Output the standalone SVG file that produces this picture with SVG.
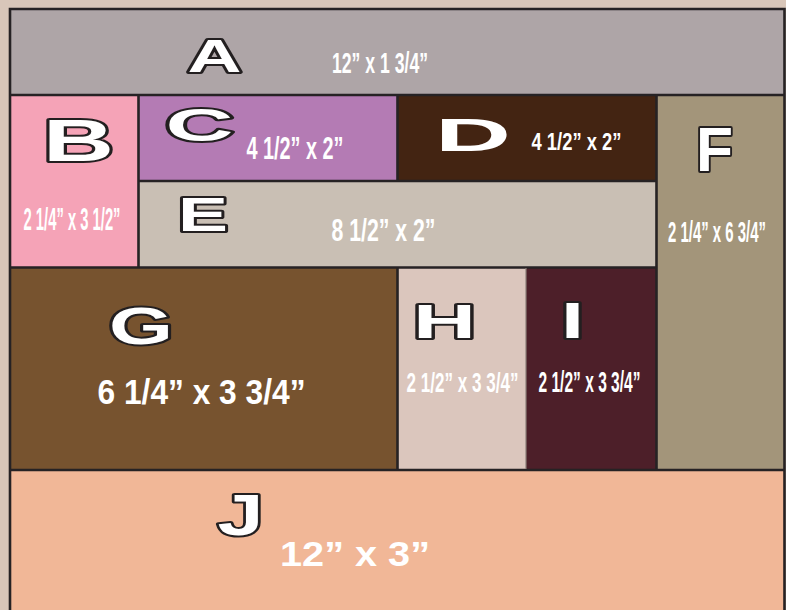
<svg xmlns="http://www.w3.org/2000/svg" width="786" height="610" viewBox="0 0 786 610">
<style>
.ln{stroke:#262224;stroke-width:2.6;fill:none}
.thin{stroke:#8a7f78;stroke-width:1.2}
.let{font-family:"Liberation Sans",Arial,sans-serif;font-weight:bold;fill:#fff;stroke:#231f20;stroke-width:4;paint-order:stroke;stroke-linejoin:round}
.dim{font-family:"Liberation Sans",Arial,sans-serif;font-weight:bold;fill:#fff}
</style>
<rect width="786" height="610" fill="#d8c6b9"/>
<g id="A"><rect x="10" y="9" width="775" height="86" fill="#aea5a7"/>
<text class="let" x="187.5" y="71.5" font-size="46" textLength="54" lengthAdjust="spacingAndGlyphs">A</text>
<text class="dim" x="332" y="73" font-size="29" textLength="96" lengthAdjust="spacingAndGlyphs">12”  x 1 3/4”</text></g>
<g id="B"><rect x="10" y="95" width="128.5" height="172" fill="#f5a3b7"/>
<text class="let" x="43" y="161" font-size="60" textLength="71" lengthAdjust="spacingAndGlyphs">B</text>
<text class="dim" x="23.5" y="230" font-size="32" textLength="97" lengthAdjust="spacingAndGlyphs">2 1/4” x 3 1/2”</text></g>
<g id="C"><rect x="138.5" y="95" width="259" height="86" fill="#b47bb4"/>
<text class="let" x="165.5" y="141" font-size="46" textLength="68" lengthAdjust="spacingAndGlyphs">C</text>
<text class="dim" x="246.5" y="159" font-size="31" textLength="97" lengthAdjust="spacingAndGlyphs">4 1/2” x 2”</text></g>
<g id="D"><rect x="397.5" y="95" width="259" height="86" fill="#432412"/>
<text class="let" x="435" y="151" font-size="46" textLength="76" lengthAdjust="spacingAndGlyphs" style="stroke:none">D</text>
<text class="dim" x="531.5" y="150" font-size="23" textLength="90" lengthAdjust="spacingAndGlyphs">4 1/2” x 2”</text></g>
<g id="E"><rect x="138.5" y="181" width="518" height="86" fill="#c9bfb4"/>
<text class="let" x="178" y="230.5" font-size="49" textLength="50" lengthAdjust="spacingAndGlyphs">E</text>
<text class="dim" x="331.5" y="241" font-size="32" textLength="104" lengthAdjust="spacingAndGlyphs">8 1/2” x 2”</text></g>
<g id="F"><rect x="656.5" y="95" width="128" height="375" fill="#a3957a"/>
<text class="let" x="696" y="170.5" font-size="63" textLength="37" lengthAdjust="spacingAndGlyphs">F</text>
<text class="dim" x="668" y="242" font-size="29" textLength="98" lengthAdjust="spacingAndGlyphs">2 1/4” x 6 3/4”</text></g>
<g id="G"><rect x="10" y="267" width="387.5" height="203" fill="#77532f"/>
<text class="let" x="109" y="344" font-size="51" textLength="64" lengthAdjust="spacingAndGlyphs">G</text>
<text class="dim" x="97.5" y="404" font-size="35" textLength="208" lengthAdjust="spacingAndGlyphs">6 1/4” x 3 3/4”</text></g>
<g id="H"><rect x="397.5" y="267" width="128.5" height="203" fill="#dbc6bd"/>
<text class="let" x="413" y="337.5" font-size="49" textLength="63" lengthAdjust="spacingAndGlyphs">H</text>
<text class="dim" x="406.5" y="392" font-size="27" textLength="112" lengthAdjust="spacingAndGlyphs">2 1/2” x 3 3/4”</text></g>
<g id="I"><rect x="526" y="267" width="130.5" height="203" fill="#4d1f29"/>
<text class="let" x="561" y="337.5" font-size="50" textLength="23" lengthAdjust="spacingAndGlyphs">I</text>
<text class="dim" x="538.5" y="392" font-size="29" textLength="102" lengthAdjust="spacingAndGlyphs">2 1/2” x 3 3/4”</text></g>
<g id="J"><rect x="10" y="470" width="775" height="140" fill="#f1b797"/>
<text class="let" x="217.5" y="535" font-size="58" textLength="46" lengthAdjust="spacingAndGlyphs">J</text>
<text class="dim" x="280" y="566" font-size="35" textLength="150" lengthAdjust="spacingAndGlyphs">12” x 3”</text></g>
<g id="connectors">
<path class="ln" d="M10 620 V9 H784.5 V620"/>
<path class="ln" d="M10 95 H784.5 M138.5 95 V267 M138.5 181 H397.5 M397.5 95 V181 M397.5 181 H656.5 M656.5 95 V470 M10 267.5 H656.5 M397.5 267 V470 M10 470 H784.5"/>
<path class="thin" d="M526 268 V469"/>
</g>
</svg>
